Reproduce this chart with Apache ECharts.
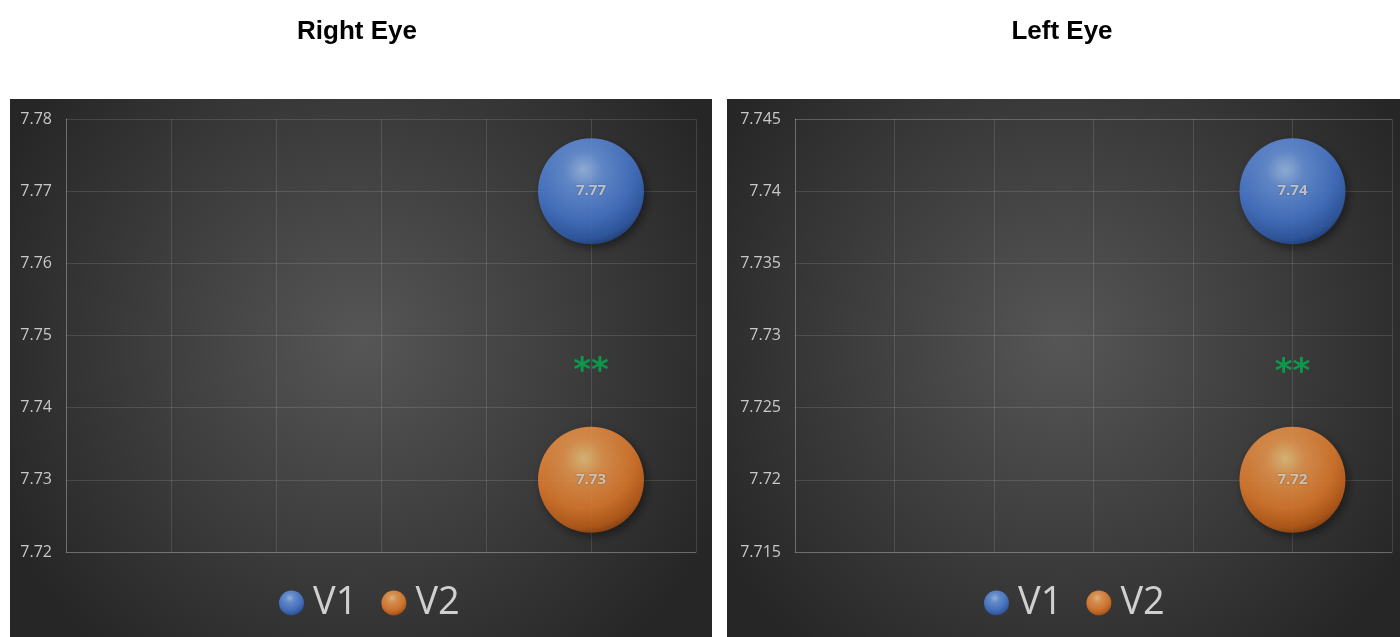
<!DOCTYPE html>
<html>
<head>
<meta charset="utf-8">
<title>Right Eye / Left Eye</title>
<script src="https://cdn.jsdelivr.net/npm/echarts@6/dist/echarts.min.js"></script>
<style>
  html, body { margin: 0; padding: 0; background: #fff; }
  #chart { width: 1400px; height: 637px; }
</style>
</head>
<body>
<div id="chart"></div>
<script>
// panels
const panelTitles = ['Right Eye', 'Left Eye'];
// y axis tick labels per panel
const yTicks = [
  ['7.72', '7.73', '7.74', '7.75', '7.76', '7.77', '7.78'],
  ['7.715', '7.72', '7.725', '7.73', '7.735', '7.74', '7.745']
];
const xTicks = [0, 1, 2, 3, 4, 5, 6];
// series values per panel
const seriesNames = ['V1', 'V2'];
const xPos = [5, 5];
const v1 = [7.77, 7.74];
const v2 = [7.73, 7.72];
// significance mark
const sigText = ['**', '**'];
const sigY = [7.7449, 7.7274];

const ball = {
  V1: { type: 'radial', x: 0.43, y: 0.3, r: 0.72, colorStops: [
    { offset: 0, color: '#a9cdff' }, { offset: 0.25, color: '#6f9fee' },
    { offset: 0.65, color: '#4a7fdc' }, { offset: 0.9, color: '#3262b8' }, { offset: 1, color: '#22468c' }] },
  V2: { type: 'radial', x: 0.43, y: 0.3, r: 0.72, colorStops: [
    { offset: 0, color: '#ffd58a' }, { offset: 0.25, color: '#fba455' },
    { offset: 0.65, color: '#f2832f' }, { offset: 0.9, color: '#cd6418' }, { offset: 1, color: '#9a4610' }] }
};

const grids = [
  { left: 66, top: 119, width: 630, height: 433 },
  { left: 795, top: 119, width: 597, height: 433 }
];
const panels = [
  { x: 10, y: 99, w: 702, h: 538, cx: 352 },
  { x: 727, y: 99, w: 673, h: 538, cx: 1057 }
];
const legendLeft = [274, 979];

const xAxis = [], yAxis = [], series = [], legend = [], title = [], graphic = [];
panels.forEach(function (p, i) {
  graphic.push({
    type: 'rect', z: -10,
    shape: { x: p.x, y: p.y, width: p.w, height: p.h },
    style: { fill: { type: 'radial', x: 0.5, y: 0.45, r: 0.75, colorStops: [
      { offset: 0, color: '#565656' }, { offset: 1, color: '#262626' }] } }
  });
  title.push({
    text: panelTitles[i], left: p.cx, top: 14, textAlign: 'center',
    textStyle: { fontFamily: 'Liberation Sans', fontWeight: 'bold', fontSize: 26, color: '#000' }
  });
  const t = yTicks[i].map(Number);
  xAxis.push({
    type: 'value', gridIndex: i, min: xTicks[0], max: xTicks[xTicks.length - 1], interval: 1,
    axisLabel: { show: false }, axisTick: { show: false },
    axisLine: { show: true, onZero: false, lineStyle: { color: 'rgba(255,255,255,0.22)' } },
    splitLine: { show: true, lineStyle: { color: 'rgba(255,255,255,0.12)' } }
  });
  yAxis.push({
    type: 'value', gridIndex: i, min: t[0], max: t[t.length - 1], interval: t[1] - t[0],
    axisLabel: { color: '#c8c8c8', fontFamily: 'Open Sans', fontSize: 16, margin: 14,
      formatter: function (v) {
        const k = yTicks[i].findIndex(function (s) { return Math.abs(Number(s) - v) < 1e-7; });
        return k >= 0 ? yTicks[i][k] : '';
      } },
    axisTick: { show: false },
    axisLine: { show: true, onZero: false, lineStyle: { color: 'rgba(255,255,255,0.22)' } },
    splitLine: { show: true, lineStyle: { color: 'rgba(255,255,255,0.12)' } }
  });
  [v1, v2].forEach(function (vals, s) {
    const name = seriesNames[s];
    series.push({
      name: name, type: 'scatter', xAxisIndex: i, yAxisIndex: i,
      symbol: 'circle', symbolSize: 106,
      itemStyle: { color: ball[name], shadowBlur: 10, shadowColor: 'rgba(0,0,0,0.55)',
        shadowOffsetX: 3, shadowOffsetY: 4 },
      label: { show: true, position: 'inside', color: '#d8d8d8', fontWeight: 'bold',
        fontFamily: 'Open Sans', fontSize: 15,
        textShadowColor: 'rgba(0,0,0,0.45)', textShadowBlur: 2,
        formatter: function (d) { return d.value[1].toFixed(2); } },
      emphasis: { disabled: true },
      data: [[xPos[i], vals[i]]]
    });
  });
  series.push({
    name: 'sig', type: 'scatter', xAxisIndex: i, yAxisIndex: i,
    symbolSize: 1, itemStyle: { color: 'rgba(0,0,0,0)' },
    label: { show: true, position: 'inside', color: '#00b050', fontFamily: 'DejaVu Sans',
      fontWeight: 'bold', fontSize: 34, formatter: sigText[i] },
    silent: true,
    data: [[xPos[i], sigY[i]]]
  });
  legend.push({
    data: seriesNames, left: legendLeft[i], top: 579, icon: 'circle',
    itemWidth: 25, itemHeight: 25, itemGap: 24,
    textStyle: { color: '#d0d0d0', fontFamily: 'Open Sans', fontSize: 38, padding: [0, 0, 0, 4] }
  });
});

const chart = echarts.init(document.getElementById('chart'));
chart.setOption({
  animation: false,
  title: title,
  graphic: graphic,
  grid: grids,
  xAxis: xAxis,
  yAxis: yAxis,
  legend: legend,
  series: series
});
</script>
</body>
</html>
